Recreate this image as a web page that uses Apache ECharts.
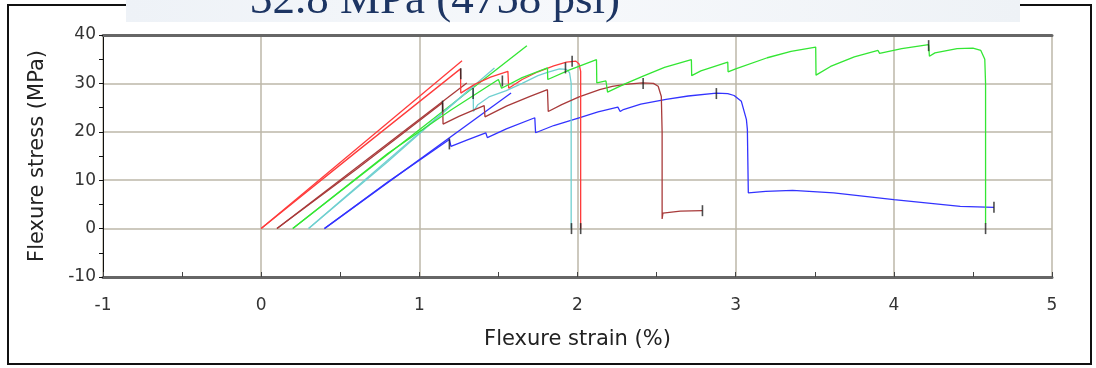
<!DOCTYPE html>
<html>
<head>
<meta charset="utf-8">
<script src="https://cdn.jsdelivr.net/npm/echarts@6/dist/echarts.min.js"></script>
<style>
html,body{margin:0;padding:0;background:#fff;}
#chart{width:1096px;height:368px;}
</style>
</head>
<body>
<div id="chart"></div>
<script>
// ---- data (strain %, stress MPa) ----
const xTicks = [-1, 0, 1, 2, 3, 4, 5];
const yTicks = [-10, 0, 10, 20, 30, 40];
const xTitle = 'Flexure strain (%)';
const yTitle = 'Flexure stress (MPa)';
const bannerText = '32.8 MPa (4758 psi)';

const redFit = [[0, 0], [1.27, 34.7]];
const redCurve = [[0, 0], [0.6, 15.8], [1.26, 33.0], [1.262, 28.0], [1.35, 29.8], [1.45, 31.3], [1.56, 32.5], [1.565, 29.0], [1.65, 30.8], [1.75, 32.4], [1.85, 33.6], [1.93, 34.4], [1.99, 34.6], [2.01, 34.0], [2.02, 32.5], [2.02, 0]];

const brownFit = [[0.1, 0], [1.30, 30.1]];
const brownCurve = [[0.1, 0], [0.6, 12.2], [1.147, 26.0], [1.15, 21.6], [1.25, 23.2], [1.35, 24.6], [1.41, 25.4], [1.415, 23.1], [1.55, 25.3], [1.70, 27.3], [1.81, 28.7], [1.815, 24.2], [1.9, 25.6], [2.01, 27.2], [2.14, 28.7], [2.22, 29.4], [2.3, 29.8], [2.41, 30.1], [2.48, 30.0], [2.51, 29.4], [2.53, 27.3], [2.535, 20], [2.535, 2.0], [2.54, 3.2], [2.65, 3.6], [2.79, 3.7]];

const greenFit = [[0.2, 0], [1.68, 37.8]];
const greenCurve = [[0.2, 0], [0.8, 15.5], [1.2, 24.5], [1.50, 30.8], [1.52, 29.0], [1.65, 31.2], [1.81, 33.2], [1.812, 30.8], [1.95, 32.8], [2.12, 34.9], [2.122, 30.1], [2.18, 30.5], [2.19, 28.2], [2.3, 29.9], [2.415, 31.5], [2.55, 33.3], [2.72, 34.9], [2.722, 31.6], [2.78, 32.6], [2.95, 34.4], [2.952, 32.4], [3.0, 33.0], [3.2, 35.3], [3.35, 36.6], [3.506, 37.5], [3.508, 31.7], [3.6, 33.5], [3.75, 35.5], [3.90, 36.8], [3.91, 36.2], [4.05, 37.2], [4.22, 38.0], [4.225, 35.6], [4.26, 36.3], [4.4, 37.2], [4.5, 37.3], [4.55, 36.8], [4.575, 35], [4.58, 30], [4.58, 1]];

const cyanFit = [[0.3, 0], [1.475, 33.2]];
const cyanCurve = [[0.3, 0], [0.8, 13.8], [1.34, 29.4], [1.342, 24.2], [1.37, 25.6], [1.44, 27.2], [1.55, 28.5], [1.65, 30.0], [1.75, 31.6], [1.81, 32.3], [1.886, 33.0], [1.93, 32.9], [1.95, 32.2], [1.96, 30], [1.96, 0]];

const blueFit = [[0.4, 0], [1.58, 28.0]];
const blueCurve = [[0.4, 0], [0.8, 9.6], [1.19, 18.4], [1.20, 17.0], [1.3, 18.3], [1.42, 19.8], [1.43, 18.8], [1.55, 20.6], [1.73, 22.9], [1.735, 19.8], [1.85, 21.3], [2.01, 22.9], [2.13, 24.1], [2.255, 25.1], [2.27, 24.2], [2.29, 24.6], [2.4, 25.7], [2.56, 26.7], [2.7, 27.4], [2.878, 28.0], [2.95, 27.9], [2.99, 27.5], [3.036, 26.3], [3.068, 22.5], [3.074, 20.5], [3.08, 7.4], [3.19, 7.7], [3.36, 7.9], [3.62, 7.4], [4.0, 6.0], [4.42, 4.6], [4.633, 4.4]];

const markerPoints = [[1.262, 32.0], [1.147, 25.3], [1.34, 27.9], [1.525, 30.5], [1.19, 17.5], [1.924, 33.2], [1.966, 34.6], [1.962, 0], [2.02, 0], [2.415, 30.0], [2.79, 3.7], [2.878, 27.9], [4.22, 37.8], [4.58, 0], [4.633, 4.4]];

// ---- chart ----
const chart = echarts.init(document.getElementById('chart'), null, {renderer: 'canvas'});
const FONT = 'DejaVu Sans';

function lineSeries(data, color, z) {
  return {
    type: 'line', data: data, showSymbol: false, symbol: 'none', animation: false,
    lineStyle: {color: color, width: 1.3}, z: z || 3, silent: true
  };
}

const option = {
  animation: false,
  backgroundColor: '#ffffff',
  grid: {left: 103, right: 44, top: 35, bottom: 91},
  xAxis: [{
    type: 'value', min: xTicks[0], max: xTicks[xTicks.length - 1], interval: 1,
    position: 'bottom',
    name: xTitle, nameLocation: 'middle', nameGap: 52,
    nameTextStyle: {fontFamily: FONT, fontSize: 21, color: '#222'},
    axisLine: {onZero: false, lineStyle: {color: '#666', width: 3}},
    axisTick: {show: true, inside: true, length: 5, lineStyle: {color: '#444', width: 1}},
    minorTick: {show: true, splitNumber: 2, length: 5, lineStyle: {color: '#444', width: 1}},
    axisLabel: {fontFamily: FONT, fontSize: 17, color: '#333', margin: 20},
    splitLine: {show: true, lineStyle: {color: '#bdb7a8', width: 1.5}}
  }, {
    type: 'value', min: xTicks[0], max: xTicks[xTicks.length - 1], position: 'top',
    axisLine: {show: true, onZero: false, lineStyle: {color: '#666', width: 3}},
    axisTick: {show: false}, axisLabel: {show: false}, splitLine: {show: false}
  }],
  yAxis: [{
    type: 'value', min: yTicks[0], max: yTicks[yTicks.length - 1], interval: 10,
    name: yTitle, nameLocation: 'middle', nameGap: 55, nameRotate: 90,
    nameTextStyle: {fontFamily: FONT, fontSize: 21, color: '#222'},
    axisLine: {show: true, onZero: false, lineStyle: {color: '#111', width: 1}},
    axisTick: {show: true, inside: false, length: 4, lineStyle: {color: '#111', width: 1}},
    minorTick: {show: true, splitNumber: 2, length: 4, lineStyle: {color: '#111', width: 1}},
    axisLabel: {fontFamily: FONT, fontSize: 17, color: '#333', margin: 7},
    splitLine: {show: true, lineStyle: {color: '#bdb7a8', width: 1.5}}
  }],
  series: [
    lineSeries(redFit, '#ff3b3b'),
    lineSeries(brownFit, '#a83a3a'),
    lineSeries(greenFit, '#33e633'),
    lineSeries(cyanFit, '#70d0d0'),
    lineSeries(blueFit, '#3333ff'),
    lineSeries(blueCurve, '#3333ff'),
    lineSeries(cyanCurve, '#70d0d0'),
    lineSeries(brownCurve, '#a83a3a'),
    lineSeries(redCurve, '#ff3b3b'),
    lineSeries(greenCurve, '#33e633'),
    {
      type: 'scatter', data: markerPoints, symbol: 'rect', symbolSize: [1.6, 11],
      itemStyle: {color: '#222'}, z: 5, silent: true, animation: false
    }
  ],
  graphic: [
    {type: 'rect', z: 100, silent: true,
     shape: {x: 8, y: 5, width: 1083, height: 359},
     style: {fill: 'none', stroke: '#111', lineWidth: 2}},
    {type: 'rect', z: 110, silent: true,
     shape: {x: 126, y: 0, width: 894, height: 22},
     style: {fill: new echarts.graphic.LinearGradient(0, 0, 1, 0, [
       {offset: 0, color: '#eef2f7'}, {offset: 0.5, color: '#f6f8fb'}, {offset: 1, color: '#eef2f6'}])}},
    {type: 'text', z: 120, silent: true, left: 250, top: -21,
     style: {text: bannerText, fontFamily: 'Liberation Serif', fontSize: 45, fill: '#1d3563'}}
  ]
};
chart.setOption(option);
</script>
</body>
</html>
